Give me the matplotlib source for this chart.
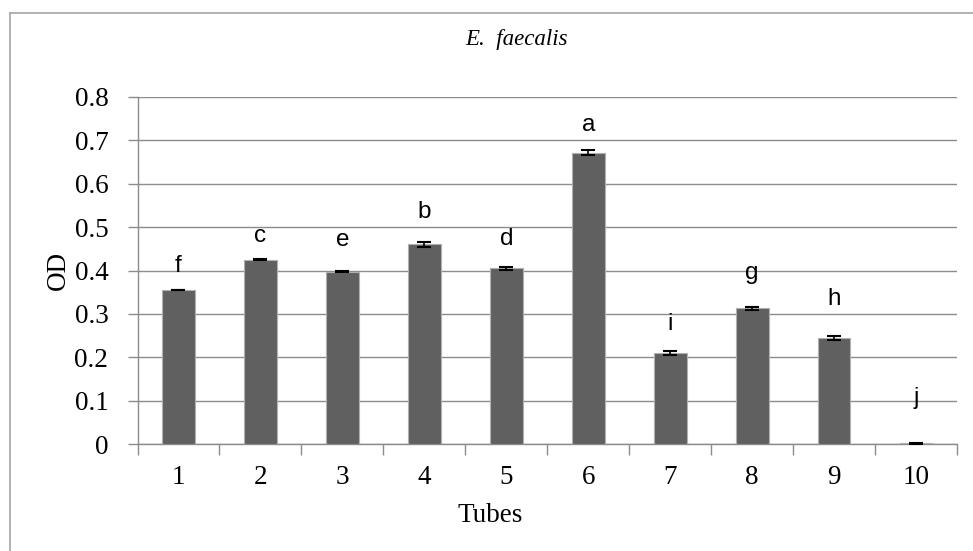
import numpy as np
import matplotlib
matplotlib.use('Agg')
import matplotlib.pyplot as plt
from matplotlib.lines import Line2D

tubes = ['1', '2', '3', '4', '5', '6', '7', '8', '9', '10']
od = [0.355, 0.425, 0.397, 0.460, 0.405, 0.672, 0.210, 0.313, 0.245, 0.002]
err = [0.001, 0.001, 0.001, 0.005, 0.003, 0.005, 0.004, 0.003, 0.005, 0.001]
letters = ['f', 'c', 'e', 'b', 'd', 'a', 'i', 'g', 'h', 'j']
letter_y = [0.397, 0.466, 0.456, 0.521, 0.459, 0.722, 0.263, 0.380, 0.320, 0.092]

W, H = 973, 551
fig = plt.figure(figsize=(W / 100, H / 100), dpi=100)
ax = fig.add_axes([137.5 / W, 1 - 444 / H, (957 - 137.5) / W, (444 - 97) / H])

serif = 'Liberation Serif'
sans = 'Liberation Sans'
grid_c = '#8c8c8c'

x = np.arange(len(tubes))
ax.bar(x, od, width=0.4, color='#606060', edgecolor='#b0b0b0', linewidth=0.8, zorder=3)
ax.errorbar(x, od, yerr=err, fmt='none', ecolor='black', elinewidth=1.2,
            capsize=5, capthick=1.5, zorder=4)

for xi, lab, ly in zip(x, letters, letter_y):
    ax.text(xi, ly, lab, ha='center', va='baseline', fontsize=17.5, family=sans)

ax.set_xlim(-0.5, len(tubes) - 0.5)
ax.set_ylim(0, 0.8)
ax.set_yticks(np.arange(0, 0.81, 0.1))
ax.set_yticklabels(['0'] + ['%.1f' % v for v in np.arange(0.1, 0.81, 0.1)],
                   fontsize=19.5, family=serif)
ax.set_xticks(x)
ax.set_xticklabels(tubes, fontsize=19.5, family=serif)
ax.set_xticks(np.arange(-0.5, len(tubes), 1), minor=True)
ax.tick_params(axis='x', which='major', length=0, pad=15)
ax.tick_params(axis='x', which='minor', length=8, color=grid_c, width=1)
ax.tick_params(axis='y', length=7, color=grid_c, width=1, pad=14)

ax.yaxis.grid(True, color=grid_c, linewidth=1)
ax.set_axisbelow(True)
for s in ['top', 'right']:
    ax.spines[s].set_visible(False)
for s in ['left', 'bottom']:
    ax.spines[s].set_color(grid_c)
    ax.spines[s].set_linewidth(1)

fig.text(490 / W, 1 - 515 / H, 'Tubes', ha='center', va='center', fontsize=19.5, family=serif)
fig.text(58 / W, 1 - 270 / H, 'OD', ha='center', va='center', rotation=90,
         fontsize=19.5, family=serif)
fig.text(517 / W, 1 - 40 / H, 'E.  faecalis', ha='center', va='center', fontsize=16.5,
         family=serif, style='italic')

# chart border
fig.add_artist(Line2D([10 / W, 10 / W], [0, 1 - 13 / H], color='#a6a6a6', lw=1.2,
                      transform=fig.transFigure))
fig.add_artist(Line2D([10 / W, 1], [1 - 13 / H, 1 - 13 / H], color='#a6a6a6', lw=1.2,
                      transform=fig.transFigure))

fig.savefig('out.png', dpi=100)
